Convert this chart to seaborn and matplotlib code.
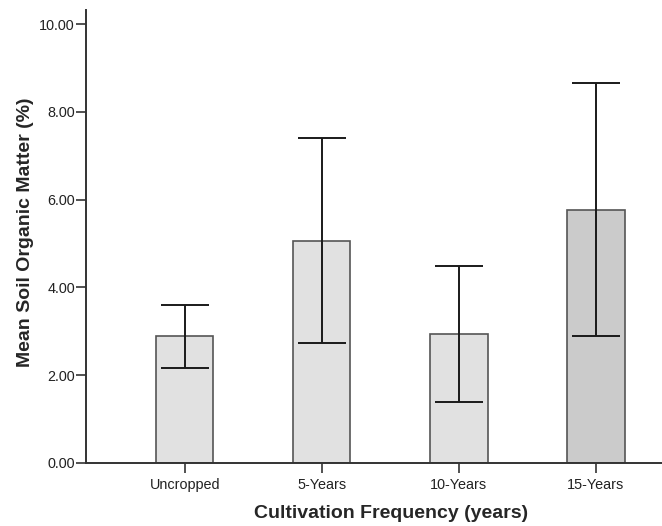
import numpy as np
import pandas as pd
from matplotlib import pyplot as plt
import seaborn as sns

# values
categorias = ["Uncropped", "5-Years", "10-Years", "15-Years"]
media = [2.89, 5.06, 2.95, 5.77]
erro_inf = [2.17, 2.73, 1.40, 2.89]
erro_sup = [3.61, 7.40, 4.49, 8.66]
cores = ["#e1e1e1", "#e1e1e1", "#e1e1e1", "#cbcbcb"]

sns.set_style("white")
plt.rcParams['font.family'] = ['Liberation Sans', 'DejaVu Sans']

df = pd.DataFrame({"Cultivation": categorias, "Media": media})

fig = plt.figure(figsize=(6.62, 5.26), dpi=100)
ax = fig.add_axes([0.130, 0.1198, 0.921, 0.861])

sns.barplot(x="Cultivation", y="Media", hue="Cultivation", data=df,
            palette=cores, legend=False, width=0.42,
            edgecolor="#555555", linewidth=1.2, ax=ax)

pos = np.arange(len(categorias))
m = np.array(media)
yerr = [m - np.array(erro_inf), np.array(erro_sup) - m]
ax.errorbar(pos, m, yerr=yerr, fmt="none", ecolor="#1a1a1a",
            elinewidth=1.4, capsize=17.5, capthick=1.4)

ax.set_ylim(0, 10.32)
ax.set_xlim(-0.72, 3.73)
ax.set_yticks([0, 2, 4, 6, 8, 10])
ax.set_yticklabels(["0.00", "2.00", "4.00", "6.00", "8.00", "10.00"])

for s in ["top", "right"]:
    ax.spines[s].set_visible(False)
for s in ["left", "bottom"]:
    ax.spines[s].set_color("#333333")
    ax.spines[s].set_linewidth(1.4)

ax.tick_params(axis="both", direction="out", length=7, width=1.2,
               color="#333333", labelsize=10.4, labelcolor="#222222",
               bottom=True, left=True)
ax.tick_params(axis="y", pad=1)
ax.tick_params(axis="x", pad=4)

ax.set_xlabel("Cultivation Frequency (years)", fontsize=14, fontweight="bold",
              labelpad=9)
ax.set_ylabel("Mean Soil Organic Matter (%)", fontsize=14, fontweight="bold")
ax.yaxis.set_label_coords(-0.085, 0.51)

fig.savefig("out.png", dpi=100)
